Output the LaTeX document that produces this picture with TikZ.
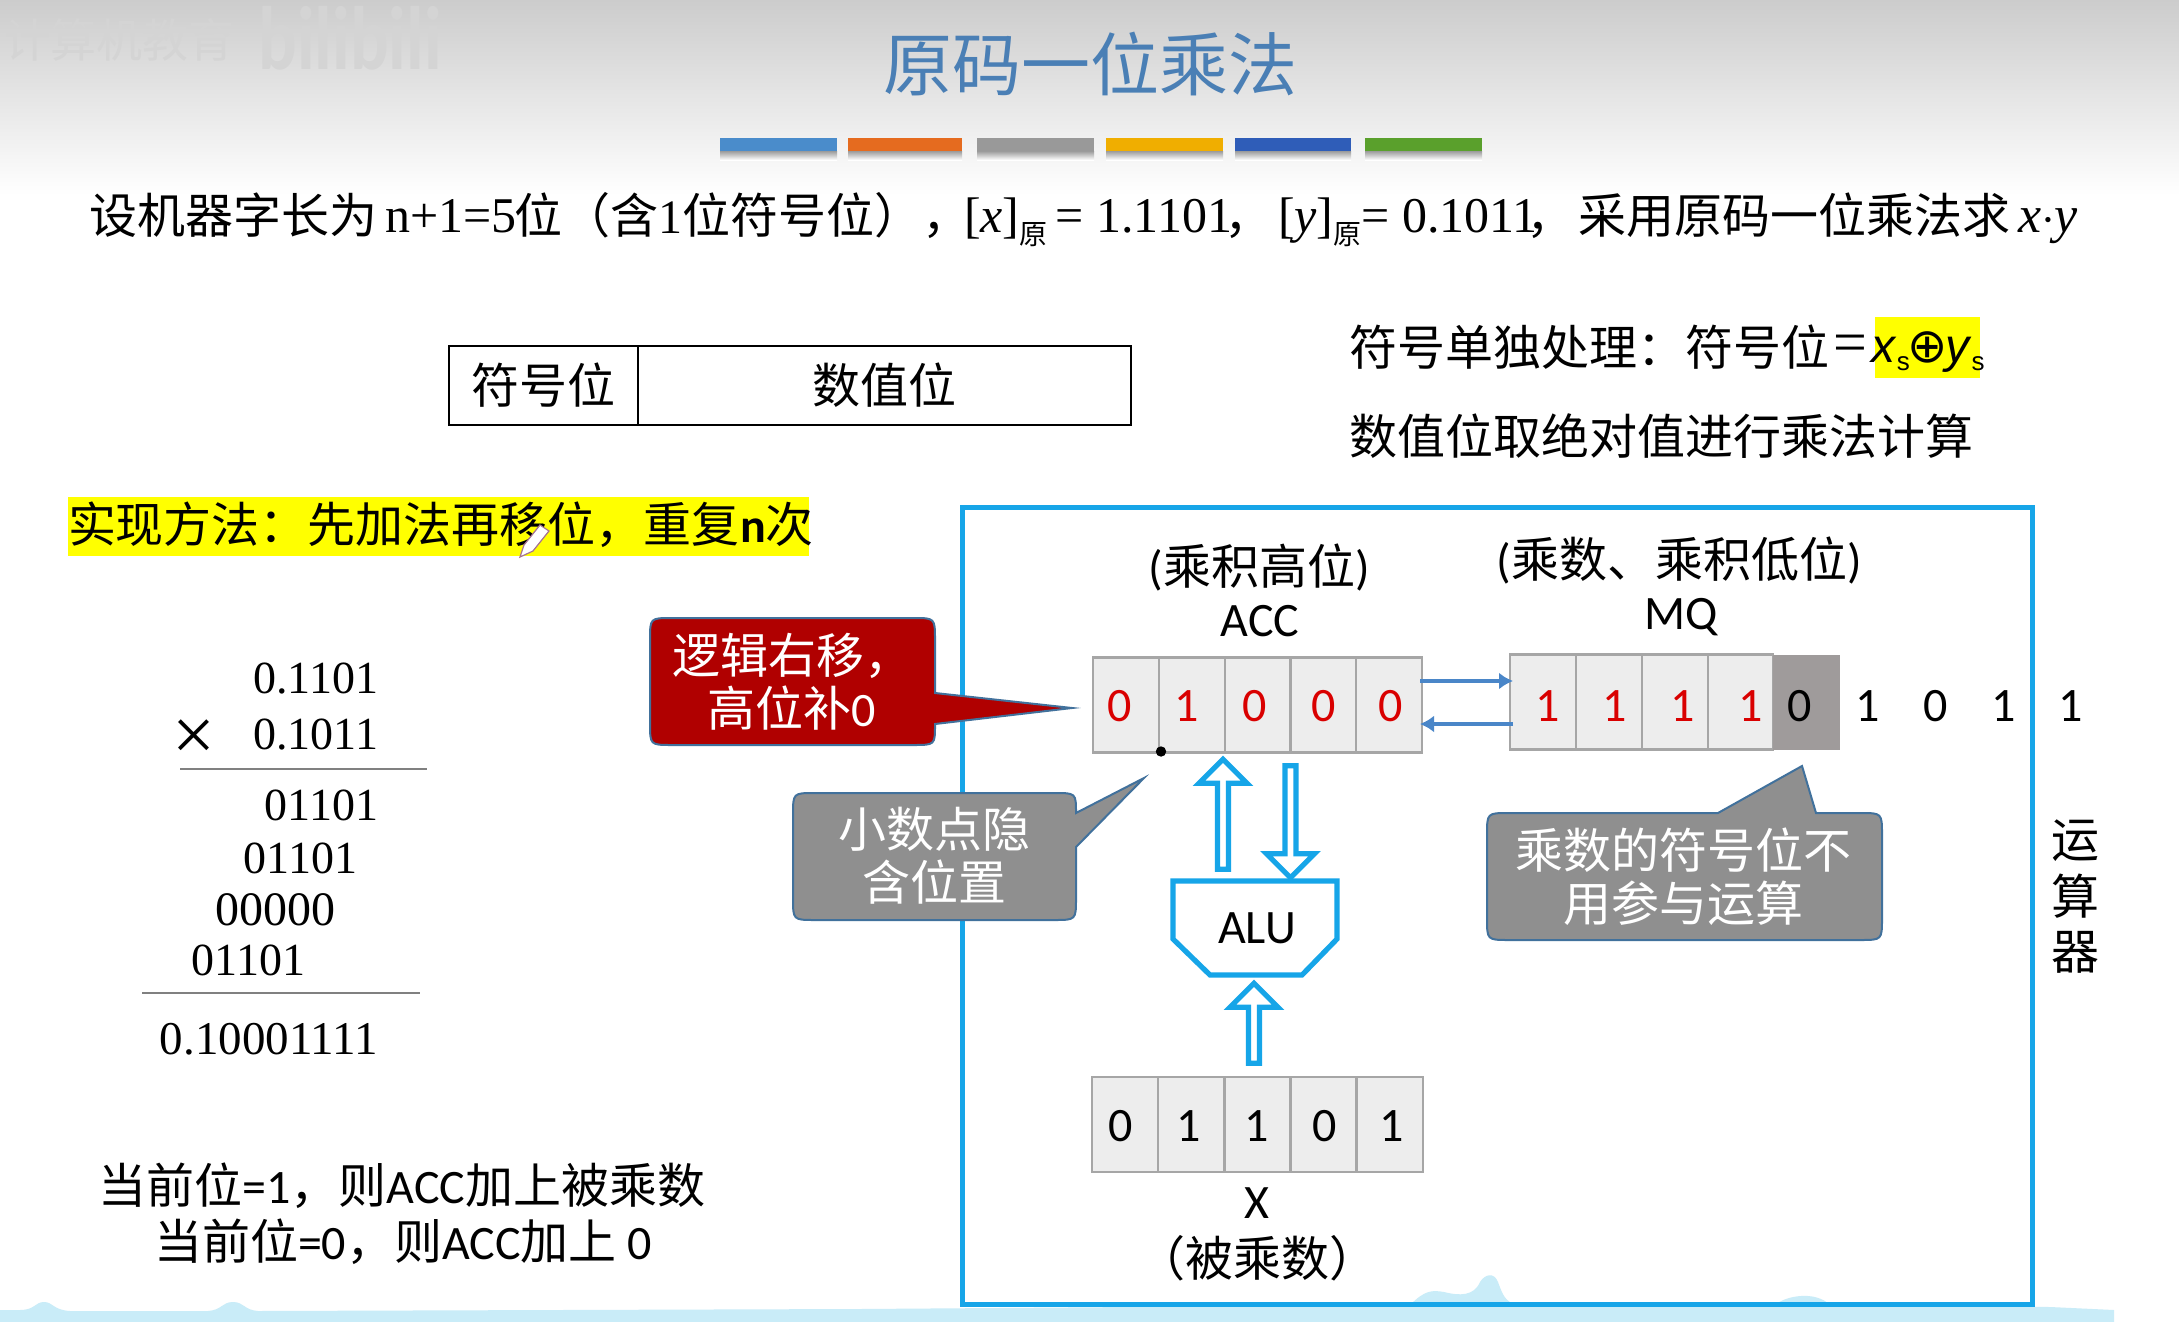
\documentclass[tikz,border=0pt]{standalone}
\usepackage{fontspec}
\usetikzlibrary{shapes.arrows,arrows.meta}
\setmainfont{Carlito}
\newfontfamily\cjk{Noto Sans CJK SC}
\newfontfamily\tms{Liberation Serif}
\newfontfamily\sansit{Liberation Sans}
\newcommand{\fsz}[1]{\fontsize{#1}{#1}\selectfont}
\definecolor{boxblue}{HTML}{16A5E8}
\definecolor{cellgray}{HTML}{EDEDED}
\definecolor{cellline}{HTML}{A6A6A6}
\definecolor{calloutline}{HTML}{41719C}
\definecolor{calloutgray}{HTML}{8F8F8F}
\definecolor{calloutred}{HTML}{B00000}
\definecolor{signcell}{HTML}{9F9B9B}
\definecolor{hl}{HTML}{FFFF00}
\definecolor{bandblue}{HTML}{C9ECF8}
\definecolor{titleblue}{HTML}{4A7FB5}
\definecolor{arrowblue}{HTML}{4A86C8}
\tikzset{
 txt/.style={inner sep=0pt,outer sep=0pt,font=\cjk\fsz{24},text=black,align=center},
 cell/.style={draw=cellline,fill=cellgray,line width=1.2pt,minimum height=47.5pt,inner sep=0pt,outer sep=0pt,font=\fsz{24}},
 signc/.style={cell,draw=none,fill=signcell},
 bit/.style={inner sep=0pt,outer sep=0pt,font=\fsz{24}},
 calc/.style={inner sep=0pt,outer sep=0pt,font=\tms\fsz{23},anchor=east},
 rule/.style={draw=gray,line width=0.8pt},
 hollow/.style={draw=boxblue,fill=white,line width=2.6pt,shape=single arrow,rotate=#1,minimum width=24pt,single arrow head extend=4.4pt,inner sep=0pt,outer sep=0pt},
 busarrow/.style={draw=arrowblue,line width=1.7pt,-{Latex[length=7pt,width=8.5pt]}},
 callout/.style={draw=calloutline,line width=1pt},
 ctext/.style={txt,text=white},
 lineone/.style={txt,anchor=base west},
 serifone/.style={inner sep=0pt,outer sep=0pt,anchor=base west,font=\tms\fsz{25}},
}
\begin{document}
\begin{tikzpicture}[x=0.5pt,y=-0.5pt]
\useasboundingbox (0,0) rectangle (2179,1322);
\fill[white] (0,0) rectangle (2179,1322);
% header gradient
\shade[top color=black!20,bottom color=white] (0,0) rectangle (2179,195);
% watermark
\node[txt,anchor=west,font=\cjk\fsz{23},text=black!17] (wm) at (4,40) {计算机教育};
\node[inner sep=0pt,anchor=west,font=\bfseries\fsz{36},text=black!17] (wmb) at (258,38) {\scalebox{1}[1.25]{bilibili}};
% bottom band
\fill[bandblue] (0,1322) -- (0,1310) -- (20,1310) .. controls (35,1310) and (35,1302) .. (44,1302) .. controls (53,1302) and (53,1310) .. (70,1311) -- (208,1311) .. controls (222,1310) and (222,1302) .. (233,1302) .. controls (244,1302) and (244,1310) .. (258,1311) -- (860,1309) -- (1410,1305) .. controls (1425,1290) and (1432,1290) .. (1444,1292) .. controls (1460,1296) and (1474,1296) .. (1480,1282) .. controls (1485,1274) and (1494,1272) .. (1498,1282) .. controls (1503,1296) and (1505,1300) .. (1515,1305) -- (1775,1305) .. controls (1785,1296) and (1815,1290) .. (1830,1305) -- (2050,1307) -- (2114,1310) -- (2114,1322) -- cycle;
% title
\node[txt,font=\cjk\fsz{34.5},text=titleblue] (title) at (1090,64) {原码一位乘法};
% colour bars
\foreach \a/\b/\c [count=\i] in {720/837/4A8CCB,848/962/E56B1F,977/1094/999999,1106/1223/F0AE00,1235/1351/2F5DB8,1365/1482/5AA02C}{
 \definecolor{barc}{HTML}{\c}
 \fill[barc] (\a,138) rectangle (\b,152);
 \shade[top color=black!35,bottom color=white] (\a,152) rectangle (\b,160);
}
% first line
\node[lineone] (l1a) at (89,233) {设机器字长为};
\node[serifone] (l1b) at (385,232) {n+1=5};
\node[lineone] (l1c) at (514,233) {位（含{\tms 1}位符号位），};
\node[serifone] (l1d) at (964,232) {[\textit{x}]\raisebox{-6pt}{\cjk\fsz{14}原}\,= 1.1101};
\node[lineone] (l1e) at (1224,233) {，};
\node[serifone] (l1f) at (1278,232) {[\textit{y}]\raisebox{-6pt}{\cjk\fsz{14}原}= 0.1011};
\node[lineone] (l1g) at (1526,233) {，};
\node[lineone] (l1h) at (1578,233) {采用原码一位乘法求};
\node[serifone,font=\tms\itshape\fsz{26}] (l1i) at (2018,232) {x$\cdot$y};
% sign table
\node[draw=black,line width=1.2pt,minimum width=94.5pt,minimum height=39.5pt,inner sep=0pt,outer sep=0pt,txt] (sgn) at (543.5,385.5) {符号位};
\node[draw=black,line width=1.2pt,minimum width=246.5pt,minimum height=39.5pt,inner sep=0pt,outer sep=0pt,txt] (val) at (884.5,385.5) {数值位};
% right notes
\fill[hl] (1875,317) rectangle (1980,378);
\node[txt,anchor=west] (n1) at (1349,347) {符号单独处理：符号位};
\node[inner sep=0pt,font=\tms\fsz{30}] (n1e) at (1850,349) {=};
\node[inner sep=0pt,anchor=center,font=\sansit\fsz{24}] (n1x) at (1928,352) {\textit{x}\raisebox{-4pt}{\fsz{13}s}\hspace{-1.2pt}{\fontspec{DejaVu Sans}\fsz{24}⊕}\hspace{-1.2pt}\textit{y}\raisebox{-4pt}{\fsz{13}s}};
\node[txt,anchor=west] (n2) at (1349,436) {数值位取绝对值进行乘法计算};
% method
\fill[hl] (68,497) rectangle (809,556);
\node[txt,anchor=west] (m) at (68,525) {实现方法：先加法再移位，重复{\bfseries\fontspec{Carlito}n}次};
% pen cursor
\draw[black!55!magenta!70!white,fill=white,line width=0.6pt] (524,545) -- (540,525) -- (549,531) -- (533,551) -- (520,557) -- cycle;
% calculation
\node[calc] (c1) at (378,679) {0.1101};
\node[calc] (c2) at (378,735) {0.1011};
\node[inner sep=0pt,font=\tms\fsz{38}] (times) at (194,740) {×};
\coordinate (r1a) at (180,769); \coordinate (r1b) at (427,769);
\draw[rule] (r1a) -- (r1b);
\node[calc] (c3) at (378,805) {01101};
\node[calc] (c4) at (357,858) {01101};
\node[calc,font=\tms\fsz{24}] (c5) at (335,910) {00000};
\node[calc] (c6) at (305,960) {01101};
\coordinate (r2a) at (142,993); \coordinate (r2b) at (420,993);
\draw[rule] (r2a) -- (r2b);
\node[calc,font=\tms\fsz{23.5}] (c7) at (378,1039) {0.10001111};
% rule text
\node[txt,anchor=center] (t1) at (402,1186) {当前位{\fontspec{Carlito}=1}，则{\fontspec{Carlito}ACC}加上被乘数};
\node[txt,anchor=center] (t2) at (403,1242) {当前位{\fontspec{Carlito}=0}，则{\fontspec{Carlito}ACC}加上 {\fontspec{Carlito}0}};
% big box
\node[draw=boxblue,line width=2.6pt,minimum width=535pt,minimum height=398.5pt,inner sep=0pt,outer sep=0pt] (cpu) at (1497.5,906) {};
% callouts
\draw[callout,fill=calloutred] (672,618) -- (913,618) .. controls (935,618) .. (935,640) -- (935,693) -- (1072,708) -- (935,724) -- (935,725) .. controls (935,745) .. (913,745) -- (672,745) .. controls (650,745) .. (650,723) -- (650,640) .. controls (650,618) .. (672,618) -- cycle;
\node[ctext] (cr) at (792,682) {逻辑右移，\\[2.5pt]高位补{\fontspec{Carlito}0}};
\draw[callout,fill=calloutgray] (815,793) -- (1054,793) .. controls (1076,793) .. (1076,813) -- (1144,778) -- (1076,847) -- (1076,898) .. controls (1076,920) .. (1054,920) -- (815,920) .. controls (793,920) .. (793,898) -- (793,815) .. controls (793,793) .. (815,793) -- cycle;
\node[ctext] (cg) at (934,856) {小数点隐\\[2.5pt]含位置};
\draw[callout,fill=calloutgray] (1509,813) -- (1718,813) -- (1802,766) -- (1816,813) -- (1860,813) .. controls (1882,813) .. (1882,835) -- (1882,918) .. controls (1882,940) .. (1860,940) -- (1509,940) .. controls (1487,940) .. (1487,918) -- (1487,835) .. controls (1487,813) .. (1509,813) -- cycle;
\node[ctext] (cq) at (1683,877) {乘数的符号位不\\[2.5pt]用参与运算};
% labels
\node[txt] (hi) at (1259,567) {{\fontspec{Carlito}(}乘积高位{\fontspec{Carlito})}};
\node[txt] (lo) at (1679,560) {{\fontspec{Carlito}(}乘数、乘积低位{\fontspec{Carlito})}};
\node[bit] (acclab) at (1260,621) {ACC};
\node[bit] (mqlab) at (1681,617) {MQ};
% ACC
\foreach \n/\x in {a1/1126,a2/1192,a3/1258,a4/1323.5,a5/1389}{
 \node[cell,minimum width=33pt] (\n) at (\x,705) {};
}
\node[bit,text=red!85!black] (ad1) at (1120,706) {0};
\node[bit,text=red!85!black] (ad2) at (1187,706) {1};
\node[bit,text=red!85!black] (ad3) at (1255,706) {0};
\node[bit,text=red!85!black] (ad4) at (1324,706) {0};
\node[bit,text=red!85!black] (ad5) at (1391,706) {0};
\fill[black] ([shift={(2,-1)}]a1.south east) circle (2.6pt);
% MQ
\node[cell,minimum width=33pt] (m1) at (1543,702) {};
\node[cell,minimum width=33pt] (m2) at (1609,702) {};
\node[cell,minimum width=33pt] (m3) at (1675,702) {};
\node[cell,minimum width=32.5pt] (m4) at (1740.5,702) {};
\node[signc,minimum width=33.5pt] (m5) at (1806.5,702) {};
\node[bit,text=red!85!black] (qd1) at (1547.5,706) {1};
\node[bit,text=red!85!black] (qd2) at (1615,706) {1};
\node[bit,text=red!85!black] (qd3) at (1683,706) {1};
\node[bit,text=red!85!black] (qd4) at (1751,706) {1};
\node[bit] (q0) at (1800,706) {0};
\node[bit] (q1) at (1868,706) {1};
\node[bit] (q2) at (1935.5,706) {0};
\node[bit] (q3) at (2003.5,706) {1};
\node[bit] (q4) at (2071,706) {1};
% bus arrows
\coordinate (br) at (1420,681); \coordinate (bl) at (1420,724);
\coordinate (cr1) at (1513,681); \coordinate (cl1) at (1513,724);
\draw[busarrow] (br) -- (cr1);
\draw[busarrow] (cl1) -- (bl);
% ALU
\draw[draw=boxblue,fill=white,line width=2.6pt,line join=miter] (1173,881) -- (1337,881) -- (1337,939) -- (1302,975) -- (1210,975) -- (1173,939) -- cycle;
\node[bit] (alu) at (1257,928) {ALU};
% hollow arrows
\node[hollow=90,minimum height=55pt] (au) at (1223,817) {};
\node[hollow=270,minimum height=56pt] (ad) at (1290.5,819) {};
\node[hollow=90,minimum height=40pt] (xu) at (1254,1026) {};
% X
\node[cell,minimum width=33pt] (x1) at (1125,1124.5) {};
\node[cell,minimum width=33pt] (x2) at (1191,1124.5) {};
\node[cell,minimum width=33pt] (x3) at (1257.5,1124.5) {};
\node[cell,minimum width=33pt] (x4) at (1323.5,1124.5) {};
\node[cell,minimum width=33pt] (x5) at (1390,1124.5) {};
\node[bit] (xd1) at (1121,1126) {0};
\node[bit] (xd2) at (1189,1126) {1};
\node[bit] (xd3) at (1257,1126) {1};
\node[bit] (xd4) at (1325,1126) {0};
\node[bit] (xd5) at (1392,1126) {1};
\node[bit] (xl) at (1257,1203) {X};
\node[txt] (xn) at (1257,1258) {（被乘数）};
% side
\node[txt] (s1) at (2075,841) {运};
\node[txt] (s2) at (2075,896) {算};
\node[txt] (s3) at (2075,952) {器};
\end{tikzpicture}
\end{document}
